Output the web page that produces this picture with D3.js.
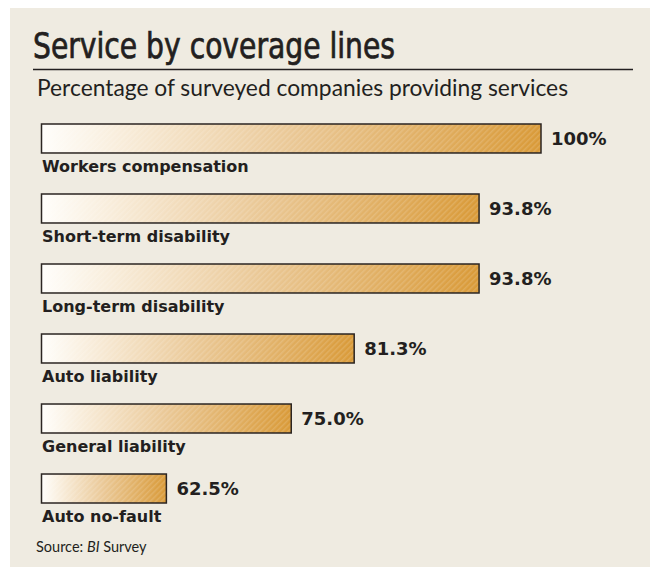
<!DOCTYPE html>
<html><head><meta charset="utf-8">
<script src="https://cdn.jsdelivr.net/npm/d3@7"></script>
<style>
html,body{margin:0;padding:0;background:#fff;}
svg{display:block;}
</style></head>
<body>
<script>
const categories = ["Workers compensation","Short-term disability","Long-term disability","Auto liability","General liability","Auto no-fault"];
const values = [100, 93.8, 93.8, 81.3, 75.0, 62.5];
const valueLabels = ["100%","93.8%","93.8%","81.3%","75.0%","62.5%"];
const titleText = "Service by coverage lines";
const subtitleText = "Percentage of surveyed companies providing services";

const W = 650, H = 576;
const svg = d3.select("body").append("svg").attr("width", W).attr("height", H);

svg.append("rect").attr("x",10).attr("y",8).attr("width",W-10).attr("height",559).attr("fill","#efebe1");

const defs = svg.append("defs");
const grad = defs.append("linearGradient").attr("id","barGrad").attr("x1","0%").attr("x2","100%");
grad.append("stop").attr("offset","0%").attr("stop-color","#fffefb");
grad.append("stop").attr("offset","50%").attr("stop-color","#eac896");
grad.append("stop").attr("offset","100%").attr("stop-color","#d99a38");
const pat = defs.append("pattern").attr("id","hatch").attr("width",4).attr("height",4)
  .attr("patternUnits","userSpaceOnUse").attr("patternTransform","rotate(45)");
pat.append("rect").attr("width",1.5).attr("height",4).attr("fill","#ffffff").attr("opacity",0.15);

// title
svg.append("text").attr("x",33).attr("y",58).text(titleText)
  .attr("font-family","'DejaVu Sans Condensed','DejaVu Sans',sans-serif")
  .attr("font-stretch","condensed")
  .attr("font-size",35).attr("fill","#231f20")
  .attr("stroke","#231f20").attr("stroke-width",0.7)
  .attr("textLength",362).attr("lengthAdjust","spacingAndGlyphs");
svg.append("line").attr("x1",33).attr("x2",633).attr("y1",69.5).attr("y2",69.5)
  .attr("stroke","#231f20").attr("stroke-width",1.5);
svg.append("text").attr("x",37).attr("y",96).text(subtitleText)
  .attr("font-family","Lato, 'Open Sans', sans-serif")
  .attr("font-size",22.8).attr("fill","#231f20");

const x = d3.scaleLinear().domain([50,100]).range([41.5,541]);
const y = d3.scaleBand().domain(categories).range([124,503]).paddingInner(0.586).paddingOuter(0);

const g = svg.append("g");
const rows = g.selectAll("g.row").data(categories).join("g").attr("class","row");
rows.append("rect").attr("x",x(50)).attr("y",d=>y(d))
  .attr("width",(d,i)=>x(values[i])-x(50)).attr("height",y.bandwidth())
  .attr("fill","url(#barGrad)");
rows.append("rect").attr("x",x(50)).attr("y",d=>y(d))
  .attr("width",(d,i)=>x(values[i])-x(50)).attr("height",y.bandwidth())
  .attr("fill","url(#hatch)").attr("stroke","#2b2522").attr("stroke-width",1.5);
rows.append("text").attr("x",(d,i)=>x(values[i])+10).attr("y",d=>y(d)+y.bandwidth()/2+6.5)
  .text((d,i)=>valueLabels[i])
  .attr("font-family","'DejaVu Sans', sans-serif").attr("font-weight","bold")
  .attr("font-size",18).attr("fill","#231f20");
rows.append("text").attr("x",42).attr("y",d=>y(d)+y.bandwidth()+19)
  .text(d=>d)
  .attr("font-family","'DejaVu Sans', sans-serif").attr("font-weight","bold")
  .attr("font-size",16).attr("fill","#231f20");

const src = svg.append("text").attr("x",36).attr("y",552)
  .attr("font-family","Lato, 'Open Sans', sans-serif").attr("font-size",14.5).attr("fill","#231f20");
src.append("tspan").text("Source: ");
src.append("tspan").attr("font-style","italic").text("BI");
src.append("tspan").text(" Survey");
</script>
</body></html>
